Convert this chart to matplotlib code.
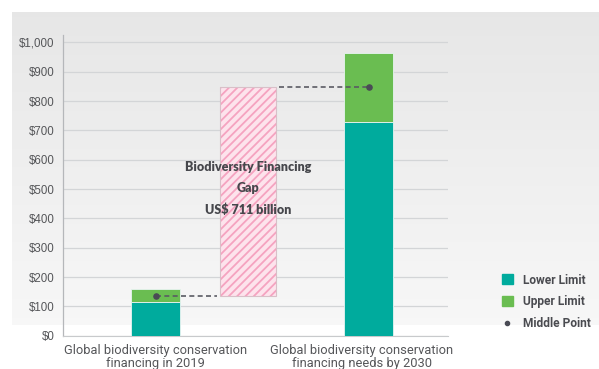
import numpy as np
import matplotlib.pyplot as plt
from matplotlib.patches import Patch
from matplotlib.lines import Line2D

# financing figures, US$ billion
categories = ['Global biodiversity conservation\nfinancing in 2019',
              'Global biodiversity conservation\nfinancing needs by 2030']
lower_limit = [114, 730]
upper_limit = [158, 964]
middle_point = [(lo + up) / 2 for lo, up in zip(lower_limit, upper_limit)]
gap_value = middle_point[1] - middle_point[0]
yticks = [0, 100, 200, 300, 400, 500, 600, 700, 800, 900, 1000]

teal = '#00ab9d'
green = '#6abd51'
dot = '#4a4b55'
text_grey = '#555659'

plt.rcParams['hatch.linewidth'] = 1.3

fig = plt.figure(figsize=(5.99, 3.69), dpi=100)

# grey backdrop fading towards the bottom
bg = fig.add_axes([0, 0, 1, 1], zorder=-10)
bg.set_xlim(0, 599)
bg.set_ylim(369, 0)
bg.axis('off')
shade = np.linspace(0.905, 0.97, 200)[:, None] * np.ones((1, 2))
bg.imshow(np.dstack([shade, shade, shade]), extent=(12, 599, 325, 12),
          aspect='auto', interpolation='bilinear')

ax = fig.add_axes([63 / 599, 1 - 335.7 / 369, 385 / 599, 300.7 / 369])
ax.set_facecolor('none')

x = np.arange(len(categories))
width = 0.23
ax.bar(x, lower_limit, width, color=teal, edgecolor='#e8f4f2', linewidth=0.6, zorder=3)
ax.bar(x, np.subtract(upper_limit, lower_limit), width, bottom=lower_limit,
       color=green, edgecolor='#e8f4f2', linewidth=0.6, zorder=3)
ax.scatter(x, middle_point, s=14, color=dot, zorder=5)

# hatched gap box between the two middle points
gap_x = 0.434
gap_w = 0.263
ax.bar(gap_x, gap_value, gap_w, bottom=middle_point[0], facecolor='#fde3ec',
       edgecolor='#f5a3c0', linewidth=0, hatch='////', zorder=3)
ax.bar(gap_x, gap_value, gap_w, bottom=middle_point[0], facecolor='none',
       edgecolor='#d8c0c8', linewidth=0.8, zorder=3)

ax.plot([x[0], gap_x - gap_w / 2 - 0.015], [middle_point[0]] * 2,
        ls=(0, (3, 2)), color='#5a5b63', lw=1.2, zorder=4)
ax.plot([gap_x + gap_w / 2 + 0.015, x[1]], [middle_point[1]] * 2,
        ls=(0, (3, 2)), color='#5a5b63', lw=1.2, zorder=4)

gap_lines = ['Biodiversity Financing', 'Gap', f'US$ {gap_value:.0f} billion']
for i, line in enumerate(gap_lines):
    ax.text(gap_x, 575 - i * 72, line, ha='center', va='center',
            fontsize=9, fontweight='heavy', color='#46474c',
            family='Lato', zorder=6)

ax.set_xlim(-0.434, 1.372)
ax.set_ylim(0, 1025)
ax.set_yticks(yticks)
ax.set_yticklabels([f'${v:,}' for v in yticks], fontsize=8.3,
                   color=text_grey, family='Liberation Sans')
# second category label sits a little left of its bar
ax.set_xticks([x[0], x[1] - 0.033])
ax.set_xticklabels(categories, fontsize=9.3, color=text_grey,
                   family='Roboto', linespacing=0.95)
ax.tick_params(length=0, pad=6, axis='y')
ax.tick_params(length=0, pad=6, axis='x')
ax.grid(axis='y', color='#d3d5d7', lw=0.9, zorder=0)
for side in ['top', 'right']:
    ax.spines[side].set_visible(False)
ax.spines['left'].set_color('#b5b7ba')
ax.spines['bottom'].set_color('#c8cacc')
ax.spines['left'].set_linewidth(0.9)

handles = [Patch(color=teal), Patch(color=green),
           Line2D([], [], marker='o', ls='', color=dot, markersize=3)]
fig.legend(handles, ['Lower Limit', 'Upper Limit', 'Middle Point'],
           loc='center left', bbox_to_anchor=(491 / 599, 1 - 302 / 369),
           frameon=False, handlelength=0.9, handleheight=0.9,
           handletextpad=0.85, labelspacing=0.75,
           prop={'family': 'Roboto', 'weight': 'bold', 'size': 8.6},
           labelcolor='#4a4b50')

fig.savefig('out.png', dpi=100)
